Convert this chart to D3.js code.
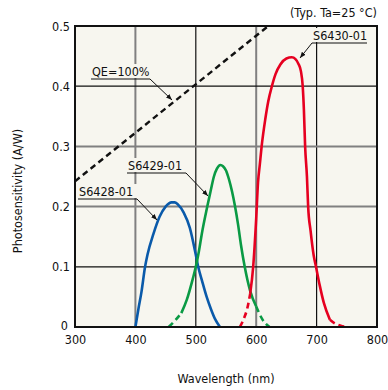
<!DOCTYPE html>
<html><head><meta charset="utf-8">
<script src="https://cdn.jsdelivr.net/npm/d3@7"></script>
<style>
body{margin:0;background:#fff;}
text{font-family:"DejaVu Sans Condensed","DejaVu Sans",sans-serif;font-size:12.5px;fill:#111;}
</style></head><body>
<svg id="c" width="388" height="390"></svg>
<script>
const xTicks = [300, 400, 500, 600, 700, 800];
const yTicks = [0, 0.1, 0.2, 0.3, 0.4, 0.5];
const yTickLabels = ["0", "0.1", "0.2", "0.3", "0.4", "0.5"];
const grayX = [400, 600];
const grayY = [0.2, 0.3];

const qeWavelength = [300, 620];
const qeValues = [0.242, 0.5];

const blueWavelength = [400, 405, 410, 416, 420, 430, 440, 450, 460, 465, 470, 480, 490, 500, 504, 510, 518, 525, 532, 540];
const blueValues =     [0, 0.03, 0.058, 0.1, 0.12, 0.155, 0.183, 0.2, 0.207, 0.207, 0.204, 0.19, 0.165, 0.12, 0.1, 0.078, 0.05, 0.03, 0.013, 0];

const greenWavelength = [455, 465, 476, 485, 495, 500, 505, 510, 519, 525, 530, 535, 541, 545, 550, 555, 560, 565, 570, 575, 581, 590, 600, 610, 622];
const greenValues =     [0, 0.01, 0.023, 0.045, 0.08, 0.1, 0.125, 0.155, 0.2, 0.228, 0.25, 0.263, 0.269, 0.267, 0.26, 0.245, 0.225, 0.2, 0.17, 0.135, 0.1, 0.06, 0.034, 0.013, 0];
const greenSolid = [476, 600];

const redWavelength = [573, 580, 585, 590, 595, 600, 603, 606, 609, 615, 620, 626, 632, 640, 650, 659, 665, 670, 674, 677, 679, 681, 684, 686, 690, 695, 699, 705, 712, 722, 730, 740, 750];
const redValues =     [0, 0.015, 0.03, 0.055, 0.1, 0.18, 0.24, 0.27, 0.3, 0.345, 0.375, 0.4, 0.42, 0.436, 0.446, 0.448, 0.445, 0.437, 0.425, 0.4, 0.36, 0.3, 0.25, 0.2, 0.16, 0.12, 0.1, 0.07, 0.04, 0.012, 0.006, 0.002, 0];
const redSolid = [590, 722];
const blueSolid = [400, 540];

const labels = [
  {text: "QE=100%", tx: 92, ty: 76, ux1: 91, ux2: 150, uy: 79, ax: 172, ay: 100},
  {text: "S6429-01", tx: 128, ty: 170, ux1: 127, ux2: 186, uy: 173, ax: 208, ay: 196},
  {text: "S6428-01", tx: 79, ty: 196, ux1: 78, ux2: 137, uy: 199, ax: 157, ay: 220},
  {text: "S6430-01", tx: 313, ty: 40, ux1: 312, ux2: 367, uy: 43, ax: 300, ay: 58}
];

const svg = d3.select("#c");
const m = {l: 75, r: 377, t: 26, b: 327};
const x = d3.scaleLinear().domain([300, 800]).range([m.l, m.r]);
const y = d3.scaleLinear().domain([0, 0.5]).range([m.b, m.t]);

svg.append("rect").attr("x", m.l).attr("y", m.t).attr("width", m.r - m.l).attr("height", m.b - m.t).attr("fill", "#f7f6ef");

// grid
xTicks.slice(1, -1).forEach(v => {
  const g = grayX.includes(v);
  svg.append("line").attr("x1", x(v)).attr("x2", x(v)).attr("y1", m.t).attr("y2", m.b)
    .attr("stroke", g ? "#808080" : "#111").attr("stroke-width", g ? 2 : 1.2);
});
yTicks.slice(1, -1).forEach(v => {
  const g = grayY.includes(v);
  svg.append("line").attr("y1", y(v)).attr("y2", y(v)).attr("x1", m.l).attr("x2", m.r)
    .attr("stroke", g ? "#808080" : "#111").attr("stroke-width", g ? 2 : 1.2);
});

// label backgrounds masking grid
labels.forEach(l => {
  svg.append("rect").attr("x", l.ux1).attr("y", l.ty - 12).attr("width", l.ux2 - l.ux1).attr("height", 14).attr("fill", "#f7f6ef");
});

// axes
const xAxis = svg.append("g").attr("transform", `translate(0,${m.b})`)
  .call(d3.axisBottom(x).tickValues(xTicks).tickSize(0).tickPadding(8));
xAxis.select(".domain").remove();
xAxis.selectAll("text").attr("font-size", null).attr("font-family", null);
const yAxis = svg.append("g").attr("transform", `translate(${m.l},0)`)
  .call(d3.axisLeft(y).tickValues(yTicks).tickFormat((d, i) => yTickLabels[i]).tickSize(0).tickPadding(5));
yAxis.select(".domain").remove();
yAxis.selectAll("text").attr("font-size", null).attr("font-family", null);
yAxis.selectAll(".tick").filter(d => d === 0).select("text").attr("dy", "0.2em").attr("dx", "-2");

const line = d3.line().x(d => x(d[0])).y(d => y(d[1])).curve(d3.curveMonotoneX);

function drawSeries(ws, vs, solid, color) {
  const pts = ws.map((w, i) => [w, vs[i]]);
  const inS = pts.filter(p => p[0] >= solid[0] && p[0] <= solid[1]);
  const before = pts.filter(p => p[0] <= solid[0]);
  const after = pts.filter(p => p[0] >= solid[1]);
  [before, after].forEach(seg => {
    if (seg.length > 1) svg.append("path").attr("d", line(seg)).attr("fill", "none")
      .attr("stroke", color).attr("stroke-width", 2.6).attr("stroke-dasharray", "6,4");
  });
  svg.append("path").attr("d", line(inS)).attr("fill", "none").attr("stroke", color).attr("stroke-width", 2.6);
}

// QE line
svg.append("path").attr("d", d3.line().x(d => x(d[0])).y(d => y(d[1]))(qeWavelength.map((w, i) => [w, qeValues[i]])))
  .attr("fill", "none").attr("stroke", "#111").attr("stroke-width", 2.4).attr("stroke-dasharray", "6,4");

drawSeries(blueWavelength, blueValues, blueSolid, "#0a5aaa");
drawSeries(greenWavelength, greenValues, greenSolid, "#0a9a44");
drawSeries(redWavelength, redValues, redSolid, "#e60020");

// frame
svg.append("rect").attr("x", m.l).attr("y", m.t).attr("width", m.r - m.l).attr("height", m.b - m.t)
  .attr("fill", "none").attr("stroke", "#111").attr("stroke-width", 2);

// labels with leaders
svg.append("defs").append("marker").attr("id", "ah").attr("viewBox", "0 0 10 10").attr("refX", 10).attr("refY", 5)
  .attr("markerWidth", 6).attr("markerHeight", 6).attr("orient", "auto")
  .append("path").attr("d", "M0,1 L10,5 L0,9 Z").attr("fill", "#111");
labels.forEach(l => {
  svg.append("text").attr("x", l.tx).attr("y", l.ty).text(l.text);
  svg.append("line").attr("x1", l.ux1).attr("x2", l.ux2).attr("y1", l.uy).attr("y2", l.uy).attr("stroke", "#111").attr("stroke-width", 1);
  const sx = l.ax > l.ux2 ? l.ux2 : (l.ax < l.ux1 ? l.ux1 : l.ux2);
  svg.append("line").attr("x1", sx).attr("y1", l.uy).attr("x2", l.ax).attr("y2", l.ay)
    .attr("stroke", "#111").attr("stroke-width", 1).attr("marker-end", "url(#ah)");
});

svg.append("text").attr("x", m.r).attr("y", 17).attr("text-anchor", "end").text("(Typ. Ta=25 °C)");
svg.append("text").attr("x", (m.l + m.r) / 2).attr("y", 383).attr("text-anchor", "middle").text("Wavelength (nm)");
svg.append("text").attr("transform", "translate(22,191) rotate(-90)").attr("text-anchor", "middle").text("Photosensitivity (A/W)");
</script></body></html>
